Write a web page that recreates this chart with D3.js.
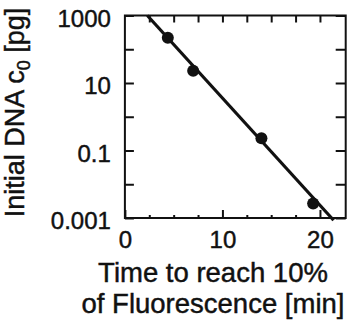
<!DOCTYPE html>
<html>
<head>
<meta charset="utf-8">
<script src="https://cdn.jsdelivr.net/npm/d3@7"></script>
<style>
  html, body { margin: 0; padding: 0; background: #fff; }
  svg { display: block; }
  text { font-family: "Liberation Sans", Arial, Helvetica, sans-serif; fill: #111; stroke: #111; stroke-width: 0.45px; }
</style>
</head>
<body>
<svg id="chart" width="354" height="327"></svg>
<script>
// Measured amplification times and initial DNA amounts
const timeMin = [4.4, 7.0, 14.0, 19.3];
const dnaPg = [220, 23, 0.23, 0.0027];

// Regression line through the dilution series
const fitTime = [2.3, 21.4];
const fitDna = [1000, 0.00086];

// Axis ticks
const xTickMajor = [0, 10, 20];
const xTickMinor = [2.5, 5, 7.5, 12.5, 15, 17.5];
const yTickDecades = [1000, 100, 10, 1, 0.1, 0.01, 0.001];
const yTickLabels = { 1000: "1000", 10: "10", 0.1: "0.1", 0.001: "0.001" };

const xTitleLines = ["Time to reach 10%", "of Fluorescence [min]"];

const svg = d3.select("#chart");
const box = { left: 124.9, right: 345.7, top: 15.5, bottom: 218 };

const x = d3.scaleLinear().domain([0, 22.64]).range([box.left, box.right]);
const y = d3.scaleLog().domain([0.001, 1000]).range([box.bottom, box.top]);

const ink = "#111";

function styleAxis(g) {
  g.select(".domain").remove();
  g.selectAll(".tick line").attr("stroke", ink).attr("stroke-width", 2);
  g.selectAll(".tick text").attr("font-size", 24).attr("fill", ink);
}

// Left axis with decade labels
svg.append("g")
  .attr("transform", `translate(${box.left},0)`)
  .call(d3.axisLeft(y).tickValues(yTickDecades).tickSize(-9).tickPadding(14)
    .tickFormat(d => yTickLabels[d] || ""))
  .call(styleAxis)
  .call(g => g.selectAll(".tick text").attr("dy", "0.45em"));

// Right axis (ticks only)
svg.append("g")
  .attr("transform", `translate(${box.right},0)`)
  .call(d3.axisRight(y).tickValues(yTickDecades).tickSize(-10).tickFormat(""))
  .call(styleAxis);

// Top axis (ticks only)
svg.append("g")
  .attr("transform", `translate(0,${box.top})`)
  .call(d3.axisTop(x).tickValues(xTickMinor.concat([10, 20])).tickSize(-7).tickFormat(""))
  .call(styleAxis);

// Bottom axis: short minor ticks, longer labelled major ticks
svg.append("g")
  .attr("transform", `translate(0,${box.bottom})`)
  .call(d3.axisBottom(x).tickValues(xTickMinor).tickSize(-3).tickFormat(""))
  .call(styleAxis);

svg.append("g")
  .attr("transform", `translate(0,${box.bottom})`)
  .call(d3.axisBottom(x).tickValues(xTickMajor).tickSize(-8).tickPadding(13).tickFormat(d3.format("d")))
  .call(styleAxis);

// Plot frame
svg.append("rect")
  .attr("x", box.left).attr("y", box.top)
  .attr("width", box.right - box.left).attr("height", box.bottom - box.top)
  .attr("fill", "none").attr("stroke", ink).attr("stroke-width", 2);

// Fit line
const fitData = fitTime.map((t, i) => ({ t, c: fitDna[i] }));
svg.append("path")
  .datum(fitData)
  .attr("fill", "none")
  .attr("stroke", ink)
  .attr("stroke-width", 3.2)
  .attr("d", d3.line().x(d => x(d.t)).y(d => y(d.c)));

// Data points
const points = timeMin.map((t, i) => ({ t, c: dnaPg[i] }));
svg.append("g").selectAll("circle")
  .data(points)
  .join("circle")
  .attr("cx", d => x(d.t))
  .attr("cy", d => y(d.c))
  .attr("r", 6)
  .attr("fill", ink);

// X axis title (two lines)
svg.append("g").selectAll("text")
  .data(xTitleLines)
  .join("text")
  .attr("x", 213)
  .attr("y", (d, i) => 282 + i * 31)
  .attr("text-anchor", "middle")
  .attr("font-size", 27.5)
  .text(d => d);

// Y axis title with subscript
const yTitle = svg.append("text")
  .attr("transform", "translate(24,112.5) rotate(-90)")
  .attr("text-anchor", "middle")
  .attr("font-size", 27);
yTitle.append("tspan").text("Initial DNA c");
yTitle.append("tspan").attr("font-size", 18).attr("dy", 6).text("0");
yTitle.append("tspan").attr("dy", -6).text(" [pg]");
</script>
</body>
</html>
